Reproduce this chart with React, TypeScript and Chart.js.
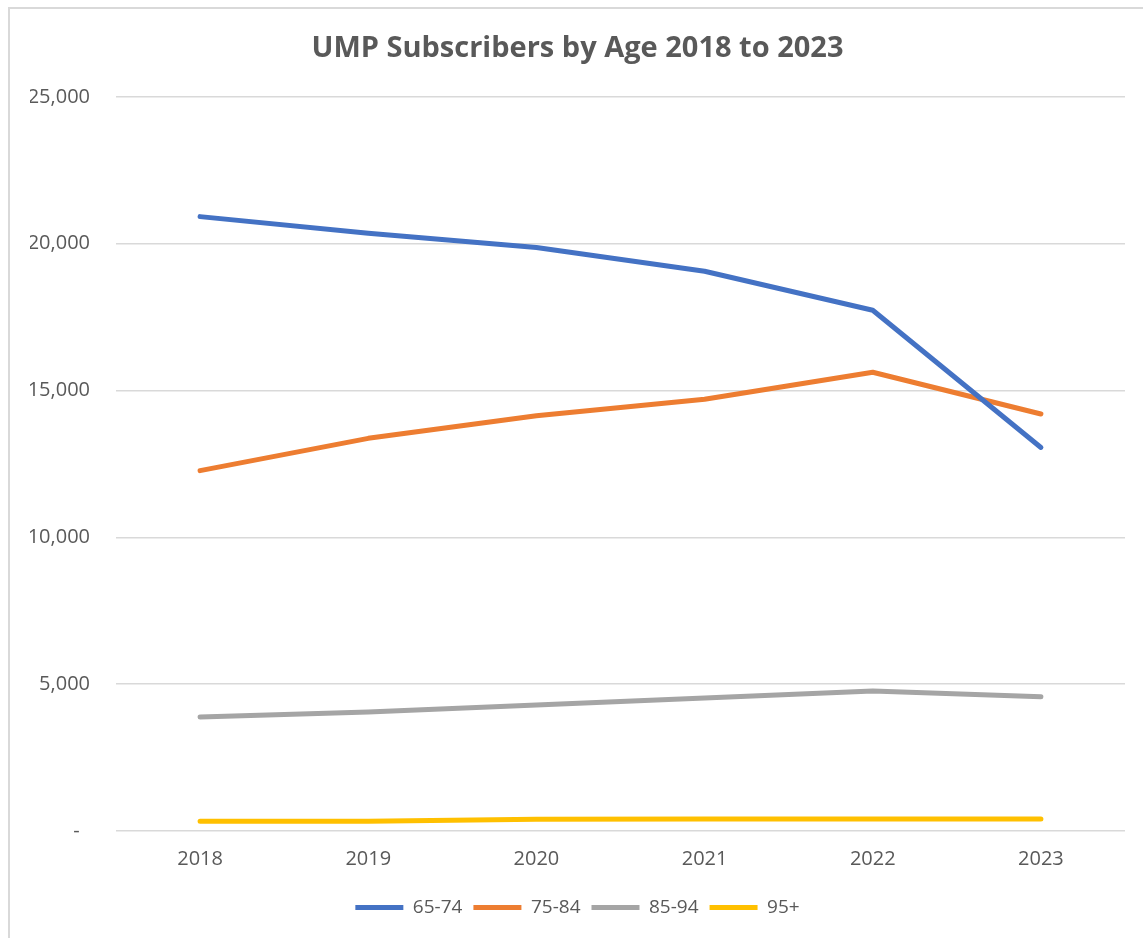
import React, { useEffect, useRef } from "react";
import { Chart, registerables } from "chart.js";

Chart.register(...registerables);

const categories = ["2018", "2019", "2020", "2021", "2022", "2023"];
const seriesNames = ["65-74", "75-84", "85-94", "95+"];
const age65to74 = [20920, 20350, 19870, 19060, 17730, 13060];
const age75to84 = [12270, 13370, 14140, 14700, 15620, 14200];
const age85to94 = [3880, 4050, 4290, 4530, 4770, 4570];
const age95plus = [330, 330, 400, 410, 410, 410];
const colors = ["#4472C4", "#ED7D31", "#A5A5A5", "#FFC000"];
const yTicks = [0, 5000, 10000, 15000, 20000, 25000];

const FONT = "'Open Sans', sans-serif";

export default function App() {
  const ref = useRef<HTMLCanvasElement | null>(null);

  useEffect(() => {
    if (!ref.current) return;
    const all = [age65to74, age75to84, age85to94, age95plus];
    const chart = new Chart(ref.current, {
      type: "line",
      data: {
        labels: categories,
        datasets: all.map((d, i) => ({
          label: seriesNames[i],
          data: d,
          borderColor: colors[i],
          backgroundColor: colors[i],
          borderWidth: 5,
          borderCapStyle: "round",
          borderJoinStyle: "round",
          pointRadius: 0,
          pointHoverRadius: 0,
          pointStyle: "line",
          tension: 0,
          fill: false,
        })),
      },
      options: {
        responsive: false,
        animation: false,
        layout: { padding: { left: 20, right: 18, top: 0, bottom: 11 } },
        plugins: {
          title: {
            display: true,
            text: "UMP Subscribers by Age 2018 to 2023",
            color: "#595959",
            font: { family: FONT, size: 29, weight: "bold" },
            padding: { top: 22, bottom: 31 },
          },
          legend: {
            position: "bottom",
            labels: {
              usePointStyle: true,
              pointStyle: "line",
              pointStyleWidth: 48,
              boxHeight: 5,
              color: "#595959",
              font: { family: FONT, size: 19 },
              padding: 11,
            },
          },
          tooltip: { enabled: false },
        },
        scales: {
          x: {
            offset: true,
            grid: { display: false, drawTicks: false },
            border: { display: false },
            ticks: {
              color: "#595959",
              font: { family: FONT, size: 20 },
              padding: 16,
              maxRotation: 0,
            },
          },
          y: {
            min: 0,
            max: 25000,
            afterBuildTicks: (axis: any) => {
              axis.ticks = yTicks.map((v) => ({ value: v }));
            },
            afterFit: (axis: any) => {
              axis.width = 86;
            },
            grid: { color: "#D9D9D9", lineWidth: 1.5, drawTicks: false },
            border: { display: false },
            ticks: {
              color: "#595959",
              font: { family: FONT, size: 20 },
              padding: 26,
              callback: (v: any) =>
                Number(v) === 0 ? "-  " : Number(v).toLocaleString("en-US"),
            },
          },
        },
      },
    });
    return () => chart.destroy();
  }, []);

  return (
    <div
      style={{
        position: "fixed",
        left: 8,
        top: 7,
        width: 1160,
        height: 960,
        borderLeft: "2px solid #D9D9D9",
        borderTop: "2px solid #D9D9D9",
        background: "#fff",
      }}
    >
      <canvas
        ref={ref}
        width={1133}
        height={929}
        style={{ position: "absolute", left: 0, top: 0, width: 1133, height: 929 }}
      />
    </div>
  );
}
